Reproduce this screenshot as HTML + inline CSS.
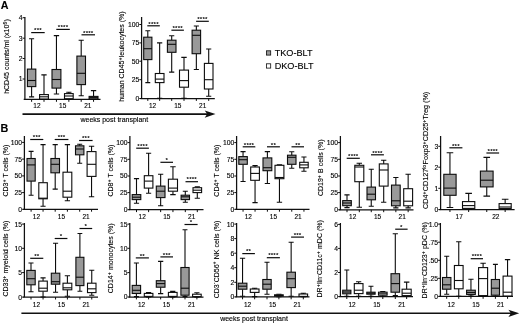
<!DOCTYPE html>
<html lang="en"><head><meta charset="utf-8"><title>Figure</title>
<style>
html,body{margin:0;padding:0;background:#fff;}
body{width:520px;height:323px;overflow:hidden;}
svg{display:block;font-family:"Liberation Sans",Arial,sans-serif;fill:#000;}
text{stroke:#000;stroke-width:0.12px;}
text.st{stroke:none;}
</style></head><body>
<svg width="520" height="323" viewBox="0 0 520 323">
<rect x="0" y="0" width="520" height="323" fill="#ffffff" stroke="none"/>
<path d="M24.9 17.1V99.4M23.7 99.4H100.5" stroke="#111" stroke-width="1.25" fill="none"/>
<path d="M22.599999999999998 17.7H24.9" stroke="#0c0c0c" stroke-width="1"/>
<text x="22.599999999999998" y="20.15" font-size="6.8" text-anchor="end" font-weight="normal">4</text>
<path d="M22.599999999999998 38.2H24.9" stroke="#0c0c0c" stroke-width="1"/>
<text x="22.599999999999998" y="40.65" font-size="6.8" text-anchor="end" font-weight="normal">3</text>
<path d="M22.599999999999998 58.5H24.9" stroke="#0c0c0c" stroke-width="1"/>
<text x="22.599999999999998" y="60.95" font-size="6.8" text-anchor="end" font-weight="normal">2</text>
<path d="M22.599999999999998 79.0H24.9" stroke="#0c0c0c" stroke-width="1"/>
<text x="22.599999999999998" y="81.45" font-size="6.8" text-anchor="end" font-weight="normal">1</text>
<path d="M31.60 38.80V69.10M31.60 86.60V96.90M29.08 38.80H34.12M29.08 96.90H34.12" stroke="#0c0c0c" stroke-width="1.1" fill="none"/>
<rect x="27.40" y="69.10" width="8.40" height="17.50" fill="#999999" stroke="#0c0c0c" stroke-width="1.1"/>
<path d="M27.40 80.50H35.80" stroke="#0c0c0c" stroke-width="1.1"/>
<path d="M31.60 99.4V101.80000000000001" stroke="#0c0c0c" stroke-width="1"/>
<path d="M44.00 74.90V94.60M44.00 99.00V99.40M41.36 74.90H46.64M41.36 99.40H46.64" stroke="#0c0c0c" stroke-width="1.1" fill="none"/>
<rect x="39.60" y="94.60" width="8.80" height="4.40" fill="#ffffff" stroke="#0c0c0c" stroke-width="1.1"/>
<path d="M39.60 96.80H48.40" stroke="#0c0c0c" stroke-width="1.1"/>
<path d="M44.00 99.4V101.80000000000001" stroke="#0c0c0c" stroke-width="1"/>
<path d="M56.45 35.60V69.50M56.45 88.10V94.00M53.78 35.60H59.12M53.78 94.00H59.12" stroke="#0c0c0c" stroke-width="1.1" fill="none"/>
<rect x="52.00" y="69.50" width="8.90" height="18.60" fill="#999999" stroke="#0c0c0c" stroke-width="1.1"/>
<path d="M52.00 79.50H60.90" stroke="#0c0c0c" stroke-width="1.1"/>
<path d="M56.45 99.4V101.80000000000001" stroke="#0c0c0c" stroke-width="1"/>
<path d="M68.85 92.20V93.60M68.85 98.70V99.20M66.24 92.20H71.46M66.24 99.20H71.46" stroke="#0c0c0c" stroke-width="1.1" fill="none"/>
<rect x="64.50" y="93.60" width="8.70" height="5.10" fill="#ffffff" stroke="#0c0c0c" stroke-width="1.1"/>
<path d="M64.50 96.00H73.20" stroke="#0c0c0c" stroke-width="1.1"/>
<path d="M68.85 99.4V101.80000000000001" stroke="#0c0c0c" stroke-width="1"/>
<path d="M81.20 40.20V56.10M81.20 84.60V95.80M78.62 40.20H83.78M78.62 95.80H83.78" stroke="#0c0c0c" stroke-width="1.1" fill="none"/>
<rect x="76.90" y="56.10" width="8.60" height="28.50" fill="#999999" stroke="#0c0c0c" stroke-width="1.1"/>
<path d="M76.90 73.30H85.50" stroke="#0c0c0c" stroke-width="1.1"/>
<path d="M81.20 99.4V101.80000000000001" stroke="#0c0c0c" stroke-width="1"/>
<path d="M93.55 90.60V96.40M93.55 98.80V99.20M90.88 90.60H96.22M90.88 99.20H96.22" stroke="#0c0c0c" stroke-width="1.1" fill="none"/>
<rect x="89.10" y="96.40" width="8.90" height="2.40" fill="#ffffff" stroke="#0c0c0c" stroke-width="1.1"/>
<path d="M89.10 97.60H98.00" stroke="#0c0c0c" stroke-width="1.1"/>
<path d="M93.55 99.4V101.80000000000001" stroke="#0c0c0c" stroke-width="1"/>
<text x="36.9" y="107.8" font-size="6.5" text-anchor="middle" font-weight="normal">12</text>
<text x="62.7" y="107.8" font-size="6.5" text-anchor="middle" font-weight="normal">15</text>
<text x="87.8" y="107.8" font-size="6.5" text-anchor="middle" font-weight="normal">21</text>
<path d="M31.2 32.6H44.7" stroke="#0c0c0c" stroke-width="1.2"/>
<text x="37.95" y="32.3" font-size="6.2" text-anchor="middle" font-weight="bold" class="st" letter-spacing="0.2">***</text>
<path d="M56.3 29.4H69.8" stroke="#0c0c0c" stroke-width="1.2"/>
<text x="63.05" y="29.1" font-size="6.2" text-anchor="middle" font-weight="bold" class="st" letter-spacing="0.2">****</text>
<path d="M81.5 34.8H95" stroke="#0c0c0c" stroke-width="1.2"/>
<text x="88.25" y="34.5" font-size="6.2" text-anchor="middle" font-weight="bold" class="st" letter-spacing="0.2">****</text>
<text x="9.4" y="56.5" font-size="7" text-anchor="middle" font-weight="normal" transform="rotate(-90 9.4 56.5)">hCD45 counts/ml (x10<tspan font-size="72%" dy="-2.1">6</tspan><tspan dy="2.1" dx="0.3">&#8203;</tspan>)</text>
<path d="M141.6 17.1V98.5M140.4 98.5H214.8" stroke="#111" stroke-width="1.25" fill="none"/>
<path d="M139.29999999999998 24.5H141.6" stroke="#0c0c0c" stroke-width="1"/>
<text x="139.29999999999998" y="26.95" font-size="6.8" text-anchor="end" font-weight="normal">100</text>
<path d="M139.29999999999998 42.9H141.6" stroke="#0c0c0c" stroke-width="1"/>
<text x="139.29999999999998" y="45.35" font-size="6.8" text-anchor="end" font-weight="normal">75</text>
<path d="M139.29999999999998 61.2H141.6" stroke="#0c0c0c" stroke-width="1"/>
<text x="139.29999999999998" y="63.65" font-size="6.8" text-anchor="end" font-weight="normal">50</text>
<path d="M139.29999999999998 79.7H141.6" stroke="#0c0c0c" stroke-width="1"/>
<text x="139.29999999999998" y="82.15" font-size="6.8" text-anchor="end" font-weight="normal">25</text>
<path d="M139.29999999999998 98.5H141.6" stroke="#0c0c0c" stroke-width="1"/>
<text x="139.29999999999998" y="100.95" font-size="6.8" text-anchor="end" font-weight="normal">0</text>
<path d="M147.80 30.80V37.20M147.80 59.60V82.60M145.34 30.80H150.26M145.34 82.60H150.26" stroke="#0c0c0c" stroke-width="1.1" fill="none"/>
<rect x="143.70" y="37.20" width="8.20" height="22.40" fill="#999999" stroke="#0c0c0c" stroke-width="1.1"/>
<path d="M143.70 48.70H151.90" stroke="#0c0c0c" stroke-width="1.1"/>
<path d="M147.80 98.5V100.9" stroke="#0c0c0c" stroke-width="1"/>
<path d="M159.65 42.90V73.50M159.65 82.60V98.30M157.04 42.90H162.26M157.04 98.30H162.26" stroke="#0c0c0c" stroke-width="1.1" fill="none"/>
<rect x="155.30" y="73.50" width="8.70" height="9.10" fill="#ffffff" stroke="#0c0c0c" stroke-width="1.1"/>
<path d="M155.30 79.10H164.00" stroke="#0c0c0c" stroke-width="1.1"/>
<path d="M159.65 98.5V100.9" stroke="#0c0c0c" stroke-width="1"/>
<path d="M171.70 35.80V40.20M171.70 52.30V72.10M169.12 35.80H174.28M169.12 72.10H174.28" stroke="#0c0c0c" stroke-width="1.1" fill="none"/>
<rect x="167.40" y="40.20" width="8.60" height="12.10" fill="#999999" stroke="#0c0c0c" stroke-width="1.1"/>
<path d="M167.40 44.30H176.00" stroke="#0c0c0c" stroke-width="1.1"/>
<path d="M171.70 98.5V100.9" stroke="#0c0c0c" stroke-width="1"/>
<path d="M184.00 57.40V70.10M184.00 87.20V98.30M181.30 57.40H186.70M181.30 98.30H186.70" stroke="#0c0c0c" stroke-width="1.1" fill="none"/>
<rect x="179.50" y="70.10" width="9.00" height="17.10" fill="#ffffff" stroke="#0c0c0c" stroke-width="1.1"/>
<path d="M179.50 80.60H188.50" stroke="#0c0c0c" stroke-width="1.1"/>
<path d="M184.00 98.5V100.9" stroke="#0c0c0c" stroke-width="1"/>
<path d="M196.35 26.00V30.20M196.35 53.70V69.50M193.80 26.00H198.90M193.80 69.50H198.90" stroke="#0c0c0c" stroke-width="1.1" fill="none"/>
<rect x="192.10" y="30.20" width="8.50" height="23.50" fill="#999999" stroke="#0c0c0c" stroke-width="1.1"/>
<path d="M192.10 35.30H200.60" stroke="#0c0c0c" stroke-width="1.1"/>
<path d="M196.35 98.5V100.9" stroke="#0c0c0c" stroke-width="1"/>
<path d="M208.70 49.00V63.40M208.70 89.00V96.20M206.12 49.00H211.28M206.12 96.20H211.28" stroke="#0c0c0c" stroke-width="1.1" fill="none"/>
<rect x="204.40" y="63.40" width="8.60" height="25.60" fill="#ffffff" stroke="#0c0c0c" stroke-width="1.1"/>
<path d="M204.40 79.70H213.00" stroke="#0c0c0c" stroke-width="1.1"/>
<path d="M208.70 98.5V100.9" stroke="#0c0c0c" stroke-width="1"/>
<text x="152.5" y="108.0" font-size="6.5" text-anchor="middle" font-weight="normal">12</text>
<text x="177.8" y="108.0" font-size="6.5" text-anchor="middle" font-weight="normal">15</text>
<text x="202.7" y="108.0" font-size="6.5" text-anchor="middle" font-weight="normal">21</text>
<path d="M147.3 25.8H159.8" stroke="#0c0c0c" stroke-width="1.2"/>
<text x="153.55" y="25.5" font-size="6.2" text-anchor="middle" font-weight="bold" class="st" letter-spacing="0.2">****</text>
<path d="M171.4 30.2H183.9" stroke="#0c0c0c" stroke-width="1.2"/>
<text x="177.65" y="29.9" font-size="6.2" text-anchor="middle" font-weight="bold" class="st" letter-spacing="0.2">****</text>
<path d="M196.1 21.3H208.8" stroke="#0c0c0c" stroke-width="1.2"/>
<text x="202.45" y="21.0" font-size="6.2" text-anchor="middle" font-weight="bold" class="st" letter-spacing="0.2">****</text>
<text x="123.6" y="56.6" font-size="7" text-anchor="middle" font-weight="normal" transform="rotate(-90 123.6 56.6)">human CD45<tspan font-size="72%" dy="-2.1">+</tspan><tspan dy="2.1" dx="0.3">&#8203;</tspan>leukocytes (%)</text>
<path d="M24.4 136.1V209.3M23.2 209.3H98" stroke="#111" stroke-width="1.25" fill="none"/>
<path d="M22.099999999999998 142.4H24.4" stroke="#0c0c0c" stroke-width="1"/>
<text x="22.099999999999998" y="144.85" font-size="6.8" text-anchor="end" font-weight="normal">100</text>
<path d="M22.099999999999998 159.1H24.4" stroke="#0c0c0c" stroke-width="1"/>
<text x="22.099999999999998" y="161.55" font-size="6.8" text-anchor="end" font-weight="normal">75</text>
<path d="M22.099999999999998 175.9H24.4" stroke="#0c0c0c" stroke-width="1"/>
<text x="22.099999999999998" y="178.35" font-size="6.8" text-anchor="end" font-weight="normal">50</text>
<path d="M22.099999999999998 192.6H24.4" stroke="#0c0c0c" stroke-width="1"/>
<text x="22.099999999999998" y="195.05" font-size="6.8" text-anchor="end" font-weight="normal">25</text>
<path d="M22.099999999999998 209.3H24.4" stroke="#0c0c0c" stroke-width="1"/>
<text x="22.099999999999998" y="211.75" font-size="6.8" text-anchor="end" font-weight="normal">0</text>
<path d="M31.10 151.40V158.50M31.10 181.10V195.20M28.64 151.40H33.56M28.64 195.20H33.56" stroke="#0c0c0c" stroke-width="1.1" fill="none"/>
<rect x="27.00" y="158.50" width="8.20" height="22.60" fill="#999999" stroke="#0c0c0c" stroke-width="1.1"/>
<path d="M27.00 164.90H35.20" stroke="#0c0c0c" stroke-width="1.1"/>
<path d="M31.10 209.3V211.70000000000002" stroke="#0c0c0c" stroke-width="1"/>
<path d="M43.05 144.60V182.70M43.05 198.80V206.20M40.50 144.60H45.60M40.50 206.20H45.60" stroke="#0c0c0c" stroke-width="1.1" fill="none"/>
<rect x="38.80" y="182.70" width="8.50" height="16.10" fill="#ffffff" stroke="#0c0c0c" stroke-width="1.1"/>
<path d="M38.80 198.20H47.30" stroke="#0c0c0c" stroke-width="1.1"/>
<path d="M43.05 209.3V211.70000000000002" stroke="#0c0c0c" stroke-width="1"/>
<path d="M55.20 144.60V158.50M55.20 172.80V189.10M52.62 144.60H57.78M52.62 189.10H57.78" stroke="#0c0c0c" stroke-width="1.1" fill="none"/>
<rect x="50.90" y="158.50" width="8.60" height="14.30" fill="#999999" stroke="#0c0c0c" stroke-width="1.1"/>
<path d="M50.90 164.30H59.50" stroke="#0c0c0c" stroke-width="1.1"/>
<path d="M55.20 209.3V211.70000000000002" stroke="#0c0c0c" stroke-width="1"/>
<path d="M67.40 144.60V172.20M67.40 197.20V200.80M64.76 144.60H70.04M64.76 200.80H70.04" stroke="#0c0c0c" stroke-width="1.1" fill="none"/>
<rect x="63.00" y="172.20" width="8.80" height="25.00" fill="#ffffff" stroke="#0c0c0c" stroke-width="1.1"/>
<path d="M63.00 191.20H71.80" stroke="#0c0c0c" stroke-width="1.1"/>
<path d="M67.40 209.3V211.70000000000002" stroke="#0c0c0c" stroke-width="1"/>
<path d="M79.70 144.20V145.80M79.70 154.80V163.30M77.18 144.20H82.22M77.18 163.30H82.22" stroke="#0c0c0c" stroke-width="1.1" fill="none"/>
<rect x="75.50" y="145.80" width="8.40" height="9.00" fill="#999999" stroke="#0c0c0c" stroke-width="1.1"/>
<path d="M75.50 149.00H83.90" stroke="#0c0c0c" stroke-width="1.1"/>
<path d="M79.70 209.3V211.70000000000002" stroke="#0c0c0c" stroke-width="1"/>
<path d="M91.55 146.20V151.60M91.55 176.40V196.80M88.88 146.20H94.22M88.88 196.80H94.22" stroke="#0c0c0c" stroke-width="1.1" fill="none"/>
<rect x="87.10" y="151.60" width="8.90" height="24.80" fill="#ffffff" stroke="#0c0c0c" stroke-width="1.1"/>
<path d="M87.10 164.30H96.00" stroke="#0c0c0c" stroke-width="1.1"/>
<path d="M91.55 209.3V211.70000000000002" stroke="#0c0c0c" stroke-width="1"/>
<text x="36.4" y="218.5" font-size="6.5" text-anchor="middle" font-weight="normal">12</text>
<text x="61.4" y="218.5" font-size="6.5" text-anchor="middle" font-weight="normal">15</text>
<text x="86.1" y="218.5" font-size="6.5" text-anchor="middle" font-weight="normal">21</text>
<path d="M30.2 139.5H43.3" stroke="#0c0c0c" stroke-width="1.2"/>
<text x="36.75" y="139.2" font-size="6.2" text-anchor="middle" font-weight="bold" class="st" letter-spacing="0.2">***</text>
<path d="M54.7 139.5H68.4" stroke="#0c0c0c" stroke-width="1.2"/>
<text x="61.55" y="139.2" font-size="6.2" text-anchor="middle" font-weight="bold" class="st" letter-spacing="0.2">***</text>
<path d="M79.1 140.5H92.6" stroke="#0c0c0c" stroke-width="1.2"/>
<text x="85.85" y="140.2" font-size="6.2" text-anchor="middle" font-weight="bold" class="st" letter-spacing="0.2">***</text>
<text x="8.0" y="170.6" font-size="7" text-anchor="middle" font-weight="normal" transform="rotate(-90 8.0 170.6)">CD3<tspan font-size="72%" dy="-2.1">+</tspan><tspan dy="2.1" dx="0.3">&#8203;</tspan> T cells (%)</text>
<path d="M24.4 223.0V297.1M23.2 297.1H98" stroke="#111" stroke-width="1.25" fill="none"/>
<path d="M22.099999999999998 224.1H24.4" stroke="#0c0c0c" stroke-width="1"/>
<text x="22.099999999999998" y="226.55" font-size="6.8" text-anchor="end" font-weight="normal">15</text>
<path d="M22.099999999999998 248.3H24.4" stroke="#0c0c0c" stroke-width="1"/>
<text x="22.099999999999998" y="250.75" font-size="6.8" text-anchor="end" font-weight="normal">10</text>
<path d="M22.099999999999998 272.6H24.4" stroke="#0c0c0c" stroke-width="1"/>
<text x="22.099999999999998" y="275.05" font-size="6.8" text-anchor="end" font-weight="normal">5</text>
<path d="M22.099999999999998 297.1H24.4" stroke="#0c0c0c" stroke-width="1"/>
<text x="22.099999999999998" y="299.55" font-size="6.8" text-anchor="end" font-weight="normal">0</text>
<path d="M31.00 263.00V270.40M31.00 284.80V291.80M28.48 263.00H33.52M28.48 291.80H33.52" stroke="#0c0c0c" stroke-width="1.1" fill="none"/>
<rect x="26.80" y="270.40" width="8.40" height="14.40" fill="#999999" stroke="#0c0c0c" stroke-width="1.1"/>
<path d="M26.80 278.70H35.20" stroke="#0c0c0c" stroke-width="1.1"/>
<path d="M31.00 297.1V299.5" stroke="#0c0c0c" stroke-width="1"/>
<path d="M43.05 277.90V281.10M43.05 291.20V297.00M40.50 277.90H45.60M40.50 297.00H45.60" stroke="#0c0c0c" stroke-width="1.1" fill="none"/>
<rect x="38.80" y="281.10" width="8.50" height="10.10" fill="#ffffff" stroke="#0c0c0c" stroke-width="1.1"/>
<path d="M38.80 288.20H47.30" stroke="#0c0c0c" stroke-width="1.1"/>
<path d="M43.05 297.1V299.5" stroke="#0c0c0c" stroke-width="1"/>
<path d="M55.55 243.20V273.20M55.55 284.20V292.20M53.00 243.20H58.10M53.00 292.20H58.10" stroke="#0c0c0c" stroke-width="1.1" fill="none"/>
<rect x="51.30" y="273.20" width="8.50" height="11.00" fill="#999999" stroke="#0c0c0c" stroke-width="1.1"/>
<path d="M51.30 281.70H59.80" stroke="#0c0c0c" stroke-width="1.1"/>
<path d="M55.55 297.1V299.5" stroke="#0c0c0c" stroke-width="1"/>
<path d="M67.40 275.80V283.20M67.40 289.80V296.20M64.76 275.80H70.04M64.76 296.20H70.04" stroke="#0c0c0c" stroke-width="1.1" fill="none"/>
<rect x="63.00" y="283.20" width="8.80" height="6.60" fill="#ffffff" stroke="#0c0c0c" stroke-width="1.1"/>
<path d="M63.00 287.80H71.80" stroke="#0c0c0c" stroke-width="1.1"/>
<path d="M67.40 297.1V299.5" stroke="#0c0c0c" stroke-width="1"/>
<path d="M79.90 233.50V257.30M79.90 285.60V291.20M77.50 233.50H82.30M77.50 291.20H82.30" stroke="#0c0c0c" stroke-width="1.1" fill="none"/>
<rect x="75.90" y="257.30" width="8.00" height="28.30" fill="#999999" stroke="#0c0c0c" stroke-width="1.1"/>
<path d="M75.90 277.20H83.90" stroke="#0c0c0c" stroke-width="1.1"/>
<path d="M79.90 297.1V299.5" stroke="#0c0c0c" stroke-width="1"/>
<path d="M91.75 270.20V283.20M91.75 292.60V295.20M89.20 270.20H94.30M89.20 295.20H94.30" stroke="#0c0c0c" stroke-width="1.1" fill="none"/>
<rect x="87.50" y="283.20" width="8.50" height="9.40" fill="#ffffff" stroke="#0c0c0c" stroke-width="1.1"/>
<path d="M87.50 288.80H96.00" stroke="#0c0c0c" stroke-width="1.1"/>
<path d="M91.75 297.1V299.5" stroke="#0c0c0c" stroke-width="1"/>
<text x="36.4" y="306.9" font-size="6.5" text-anchor="middle" font-weight="normal">12</text>
<text x="61.4" y="306.9" font-size="6.5" text-anchor="middle" font-weight="normal">15</text>
<text x="86.1" y="306.9" font-size="6.5" text-anchor="middle" font-weight="normal">21</text>
<path d="M30.2 258.3H43.3" stroke="#0c0c0c" stroke-width="1.2"/>
<text x="36.75" y="258.0" font-size="6.2" text-anchor="middle" font-weight="bold" class="st" letter-spacing="0.2">**</text>
<path d="M54.7 238.5H67.4" stroke="#0c0c0c" stroke-width="1.2"/>
<text x="61.05" y="238.2" font-size="6.2" text-anchor="middle" font-weight="bold" class="st" letter-spacing="0.2">*</text>
<path d="M79.5 228.5H92.2" stroke="#0c0c0c" stroke-width="1.2"/>
<text x="85.85" y="228.2" font-size="6.2" text-anchor="middle" font-weight="bold" class="st" letter-spacing="0.2">*</text>
<text x="7.8" y="258.6" font-size="7" text-anchor="middle" font-weight="normal" transform="rotate(-90 7.8 258.6)">CD33<tspan font-size="72%" dy="-2.1">+</tspan><tspan dy="2.1" dx="0.3">&#8203;</tspan> myeloid cells (%)</text>
<path d="M129.9 136.1V209.7M128.70000000000002 209.7H203.5" stroke="#111" stroke-width="1.25" fill="none"/>
<path d="M127.60000000000001 142.6H129.9" stroke="#0c0c0c" stroke-width="1"/>
<text x="127.60000000000001" y="145.05" font-size="6.8" text-anchor="end" font-weight="normal">100</text>
<path d="M127.60000000000001 159.3H129.9" stroke="#0c0c0c" stroke-width="1"/>
<text x="127.60000000000001" y="161.75" font-size="6.8" text-anchor="end" font-weight="normal">75</text>
<path d="M127.60000000000001 176.0H129.9" stroke="#0c0c0c" stroke-width="1"/>
<text x="127.60000000000001" y="178.45" font-size="6.8" text-anchor="end" font-weight="normal">50</text>
<path d="M127.60000000000001 192.6H129.9" stroke="#0c0c0c" stroke-width="1"/>
<text x="127.60000000000001" y="195.05" font-size="6.8" text-anchor="end" font-weight="normal">25</text>
<path d="M127.60000000000001 209.7H129.9" stroke="#0c0c0c" stroke-width="1"/>
<text x="127.60000000000001" y="212.15" font-size="6.8" text-anchor="end" font-weight="normal">0</text>
<path d="M136.50 178.60V194.60M136.50 199.60V203.20M133.92 178.60H139.08M133.92 203.20H139.08" stroke="#0c0c0c" stroke-width="1.1" fill="none"/>
<rect x="132.20" y="194.60" width="8.60" height="5.00" fill="#999999" stroke="#0c0c0c" stroke-width="1.1"/>
<path d="M132.20 197.20H140.80" stroke="#0c0c0c" stroke-width="1.1"/>
<path d="M136.50 209.7V212.1" stroke="#0c0c0c" stroke-width="1"/>
<path d="M148.60 153.20V175.70M148.60 188.10V193.20M146.02 153.20H151.18M146.02 193.20H151.18" stroke="#0c0c0c" stroke-width="1.1" fill="none"/>
<rect x="144.30" y="175.70" width="8.60" height="12.40" fill="#ffffff" stroke="#0c0c0c" stroke-width="1.1"/>
<path d="M144.30 181.10H152.90" stroke="#0c0c0c" stroke-width="1.1"/>
<path d="M148.60 209.7V212.1" stroke="#0c0c0c" stroke-width="1"/>
<path d="M160.65 174.20V186.10M160.65 197.60V205.80M158.04 174.20H163.26M158.04 205.80H163.26" stroke="#0c0c0c" stroke-width="1.1" fill="none"/>
<rect x="156.30" y="186.10" width="8.70" height="11.50" fill="#999999" stroke="#0c0c0c" stroke-width="1.1"/>
<path d="M156.30 191.20H165.00" stroke="#0c0c0c" stroke-width="1.1"/>
<path d="M160.65 209.7V212.1" stroke="#0c0c0c" stroke-width="1"/>
<path d="M172.95 166.80V179.20M172.95 191.20V194.60M170.22 166.80H175.68M170.22 194.60H175.68" stroke="#0c0c0c" stroke-width="1.1" fill="none"/>
<rect x="168.40" y="179.20" width="9.10" height="12.00" fill="#ffffff" stroke="#0c0c0c" stroke-width="1.1"/>
<path d="M168.40 188.10H177.50" stroke="#0c0c0c" stroke-width="1.1"/>
<path d="M172.95 209.7V212.1" stroke="#0c0c0c" stroke-width="1"/>
<path d="M185.30 191.20V195.20M185.30 199.60V202.20M182.78 191.20H187.82M182.78 202.20H187.82" stroke="#0c0c0c" stroke-width="1.1" fill="none"/>
<rect x="181.10" y="195.20" width="8.40" height="4.40" fill="#999999" stroke="#0c0c0c" stroke-width="1.1"/>
<path d="M181.10 196.80H189.50" stroke="#0c0c0c" stroke-width="1.1"/>
<path d="M185.30 209.7V212.1" stroke="#0c0c0c" stroke-width="1"/>
<path d="M197.30 186.90V187.70M197.30 192.60V198.20M194.72 186.90H199.88M194.72 198.20H199.88" stroke="#0c0c0c" stroke-width="1.1" fill="none"/>
<rect x="193.00" y="187.70" width="8.60" height="4.90" fill="#ffffff" stroke="#0c0c0c" stroke-width="1.1"/>
<path d="M193.00 190.20H201.60" stroke="#0c0c0c" stroke-width="1.1"/>
<path d="M197.30 209.7V212.1" stroke="#0c0c0c" stroke-width="1"/>
<text x="142.2" y="218.6" font-size="6.5" text-anchor="middle" font-weight="normal">12</text>
<text x="166.8" y="218.6" font-size="6.5" text-anchor="middle" font-weight="normal">15</text>
<text x="191.7" y="218.6" font-size="6.5" text-anchor="middle" font-weight="normal">21</text>
<path d="M136.2 148.2H148.9" stroke="#0c0c0c" stroke-width="1.2"/>
<text x="142.55" y="147.9" font-size="6.2" text-anchor="middle" font-weight="bold" class="st" letter-spacing="0.2">****</text>
<path d="M160.4 162.3H173.0" stroke="#0c0c0c" stroke-width="1.2"/>
<text x="166.7" y="162.0" font-size="6.2" text-anchor="middle" font-weight="bold" class="st" letter-spacing="0.2">*</text>
<path d="M185.5 181.7H198.0" stroke="#0c0c0c" stroke-width="1.2"/>
<text x="191.75" y="181.4" font-size="6.2" text-anchor="middle" font-weight="bold" class="st" letter-spacing="0.2">****</text>
<text x="113.0" y="170.6" font-size="7" text-anchor="middle" font-weight="normal" transform="rotate(-90 113.0 170.6)">CD8<tspan font-size="72%" dy="-2.1">+</tspan><tspan dy="2.1" dx="0.3">&#8203;</tspan> T cells (%)</text>
<path d="M129.8 223.0V297.0M128.60000000000002 297.0H203.5" stroke="#111" stroke-width="1.25" fill="none"/>
<path d="M127.50000000000001 224.1H129.8" stroke="#0c0c0c" stroke-width="1"/>
<text x="127.50000000000001" y="226.55" font-size="6.8" text-anchor="end" font-weight="normal">15</text>
<path d="M127.50000000000001 248.3H129.8" stroke="#0c0c0c" stroke-width="1"/>
<text x="127.50000000000001" y="250.75" font-size="6.8" text-anchor="end" font-weight="normal">10</text>
<path d="M127.50000000000001 272.6H129.8" stroke="#0c0c0c" stroke-width="1"/>
<text x="127.50000000000001" y="275.05" font-size="6.8" text-anchor="end" font-weight="normal">5</text>
<path d="M127.50000000000001 297.0H129.8" stroke="#0c0c0c" stroke-width="1"/>
<text x="127.50000000000001" y="299.45" font-size="6.8" text-anchor="end" font-weight="normal">0</text>
<path d="M136.40 263.00V285.40M136.40 293.50V296.60M133.88 263.00H138.92M133.88 296.60H138.92" stroke="#0c0c0c" stroke-width="1.1" fill="none"/>
<rect x="132.20" y="285.40" width="8.40" height="8.10" fill="#999999" stroke="#0c0c0c" stroke-width="1.1"/>
<path d="M132.20 290.30H140.60" stroke="#0c0c0c" stroke-width="1.1"/>
<path d="M136.40 297.0V299.4" stroke="#0c0c0c" stroke-width="1"/>
<path d="M148.60 292.60V293.40M148.60 296.40V296.90M146.02 292.60H151.18M146.02 296.90H151.18" stroke="#0c0c0c" stroke-width="1.1" fill="none"/>
<rect x="144.30" y="293.40" width="8.60" height="3.00" fill="#ffffff" stroke="#0c0c0c" stroke-width="1.1"/>
<path d="M148.60 297.0V299.4" stroke="#0c0c0c" stroke-width="1"/>
<path d="M160.65 261.40V280.70M160.65 287.20V293.60M158.04 261.40H163.26M158.04 293.60H163.26" stroke="#0c0c0c" stroke-width="1.1" fill="none"/>
<rect x="156.30" y="280.70" width="8.70" height="6.50" fill="#999999" stroke="#0c0c0c" stroke-width="1.1"/>
<path d="M156.30 283.60H165.00" stroke="#0c0c0c" stroke-width="1.1"/>
<path d="M160.65 297.0V299.4" stroke="#0c0c0c" stroke-width="1"/>
<path d="M172.75 291.40V292.40M172.75 296.40V296.90M170.14 291.40H175.36M170.14 296.90H175.36" stroke="#0c0c0c" stroke-width="1.1" fill="none"/>
<rect x="168.40" y="292.40" width="8.70" height="4.00" fill="#ffffff" stroke="#0c0c0c" stroke-width="1.1"/>
<path d="M172.75 297.0V299.4" stroke="#0c0c0c" stroke-width="1"/>
<path d="M185.00 229.70V267.50M185.00 295.20V296.60M182.54 229.70H187.46M182.54 296.60H187.46" stroke="#0c0c0c" stroke-width="1.1" fill="none"/>
<rect x="180.90" y="267.50" width="8.20" height="27.70" fill="#999999" stroke="#0c0c0c" stroke-width="1.1"/>
<path d="M180.90 288.20H189.10" stroke="#0c0c0c" stroke-width="1.1"/>
<path d="M185.00 297.0V299.4" stroke="#0c0c0c" stroke-width="1"/>
<path d="M196.90 292.70V294.20M196.90 296.60V296.90M194.32 292.70H199.48M194.32 296.90H199.48" stroke="#0c0c0c" stroke-width="1.1" fill="none"/>
<rect x="192.60" y="294.20" width="8.60" height="2.40" fill="#ffffff" stroke="#0c0c0c" stroke-width="1.1"/>
<path d="M196.90 297.0V299.4" stroke="#0c0c0c" stroke-width="1"/>
<text x="141.6" y="306.9" font-size="6.5" text-anchor="middle" font-weight="normal">12</text>
<text x="166.4" y="306.9" font-size="6.5" text-anchor="middle" font-weight="normal">15</text>
<text x="191.5" y="306.9" font-size="6.5" text-anchor="middle" font-weight="normal">21</text>
<path d="M135.8 257.9H148.9" stroke="#0c0c0c" stroke-width="1.2"/>
<text x="142.35" y="257.6" font-size="6.2" text-anchor="middle" font-weight="bold" class="st" letter-spacing="0.2">**</text>
<path d="M160.4 256.9H173.0" stroke="#0c0c0c" stroke-width="1.2"/>
<text x="166.7" y="256.6" font-size="6.2" text-anchor="middle" font-weight="bold" class="st" letter-spacing="0.2">***</text>
<path d="M184.5 224.5H197.6" stroke="#0c0c0c" stroke-width="1.2"/>
<text x="191.05" y="224.2" font-size="6.2" text-anchor="middle" font-weight="bold" class="st" letter-spacing="0.2">*</text>
<text x="113.0" y="258.3" font-size="7" text-anchor="middle" font-weight="normal" transform="rotate(-90 113.0 258.3)">CD14<tspan font-size="72%" dy="-2.1">+</tspan><tspan dy="2.1" dx="0.3">&#8203;</tspan> monocytes (%)</text>
<path d="M236.6 136.1V209.3M235.4 209.3H309.5" stroke="#111" stroke-width="1.25" fill="none"/>
<path d="M234.29999999999998 142.6H236.6" stroke="#0c0c0c" stroke-width="1"/>
<text x="234.29999999999998" y="145.05" font-size="6.8" text-anchor="end" font-weight="normal">100</text>
<path d="M234.29999999999998 159.3H236.6" stroke="#0c0c0c" stroke-width="1"/>
<text x="234.29999999999998" y="161.75" font-size="6.8" text-anchor="end" font-weight="normal">75</text>
<path d="M234.29999999999998 176.0H236.6" stroke="#0c0c0c" stroke-width="1"/>
<text x="234.29999999999998" y="178.45" font-size="6.8" text-anchor="end" font-weight="normal">50</text>
<path d="M234.29999999999998 192.6H236.6" stroke="#0c0c0c" stroke-width="1"/>
<text x="234.29999999999998" y="195.05" font-size="6.8" text-anchor="end" font-weight="normal">25</text>
<path d="M234.29999999999998 209.3H236.6" stroke="#0c0c0c" stroke-width="1"/>
<text x="234.29999999999998" y="211.75" font-size="6.8" text-anchor="end" font-weight="normal">0</text>
<path d="M243.05 151.60V156.60M243.05 164.30V181.50M240.50 151.60H245.60M240.50 181.50H245.60" stroke="#0c0c0c" stroke-width="1.1" fill="none"/>
<rect x="238.80" y="156.60" width="8.50" height="7.70" fill="#999999" stroke="#0c0c0c" stroke-width="1.1"/>
<path d="M238.80 159.70H247.30" stroke="#0c0c0c" stroke-width="1.1"/>
<path d="M243.05 209.3V211.70000000000002" stroke="#0c0c0c" stroke-width="1"/>
<path d="M255.05 165.60V167.00M255.05 180.30V202.60M252.44 165.60H257.66M252.44 202.60H257.66" stroke="#0c0c0c" stroke-width="1.1" fill="none"/>
<rect x="250.70" y="167.00" width="8.70" height="13.30" fill="#ffffff" stroke="#0c0c0c" stroke-width="1.1"/>
<path d="M250.70 173.40H259.40" stroke="#0c0c0c" stroke-width="1.1"/>
<path d="M255.05 209.3V211.70000000000002" stroke="#0c0c0c" stroke-width="1"/>
<path d="M267.40 151.60V157.90M267.40 170.70V183.50M264.76 151.60H270.04M264.76 183.50H270.04" stroke="#0c0c0c" stroke-width="1.1" fill="none"/>
<rect x="263.00" y="157.90" width="8.80" height="12.80" fill="#999999" stroke="#0c0c0c" stroke-width="1.1"/>
<path d="M263.00 167.70H271.80" stroke="#0c0c0c" stroke-width="1.1"/>
<path d="M267.40 209.3V211.70000000000002" stroke="#0c0c0c" stroke-width="1"/>
<path d="M279.45 164.80V165.30M279.45 178.70V202.20M276.78 164.80H282.12M276.78 202.20H282.12" stroke="#0c0c0c" stroke-width="1.1" fill="none"/>
<rect x="275.00" y="165.30" width="8.90" height="13.40" fill="#ffffff" stroke="#0c0c0c" stroke-width="1.1"/>
<path d="M275.00 177.50H283.90" stroke="#0c0c0c" stroke-width="1.1"/>
<path d="M279.45 209.3V211.70000000000002" stroke="#0c0c0c" stroke-width="1"/>
<path d="M291.75 151.80V155.20M291.75 164.30V168.30M289.20 151.80H294.30M289.20 168.30H294.30" stroke="#0c0c0c" stroke-width="1.1" fill="none"/>
<rect x="287.50" y="155.20" width="8.50" height="9.10" fill="#999999" stroke="#0c0c0c" stroke-width="1.1"/>
<path d="M287.50 157.30H296.00" stroke="#0c0c0c" stroke-width="1.1"/>
<path d="M291.75 209.3V211.70000000000002" stroke="#0c0c0c" stroke-width="1"/>
<path d="M303.95 157.00V162.30M303.95 167.80V171.20M301.40 157.00H306.50M301.40 171.20H306.50" stroke="#0c0c0c" stroke-width="1.1" fill="none"/>
<rect x="299.70" y="162.30" width="8.50" height="5.50" fill="#ffffff" stroke="#0c0c0c" stroke-width="1.1"/>
<path d="M299.70 164.90H308.20" stroke="#0c0c0c" stroke-width="1.1"/>
<path d="M303.95 209.3V211.70000000000002" stroke="#0c0c0c" stroke-width="1"/>
<text x="248.3" y="218.5" font-size="6.5" text-anchor="middle" font-weight="normal">12</text>
<text x="273.4" y="218.5" font-size="6.5" text-anchor="middle" font-weight="normal">15</text>
<text x="298.0" y="218.5" font-size="6.5" text-anchor="middle" font-weight="normal">21</text>
<path d="M242.7 146.8H255.3" stroke="#0c0c0c" stroke-width="1.2"/>
<text x="249.0" y="146.5" font-size="6.2" text-anchor="middle" font-weight="bold" class="st" letter-spacing="0.2">****</text>
<path d="M267.0 146.8H279.9" stroke="#0c0c0c" stroke-width="1.2"/>
<text x="273.45" y="146.5" font-size="6.2" text-anchor="middle" font-weight="bold" class="st" letter-spacing="0.2">**</text>
<path d="M291.5 146.8H304.0" stroke="#0c0c0c" stroke-width="1.2"/>
<text x="297.75" y="146.5" font-size="6.2" text-anchor="middle" font-weight="bold" class="st" letter-spacing="0.2">**</text>
<text x="219.4" y="170.6" font-size="7" text-anchor="middle" font-weight="normal" transform="rotate(-90 219.4 170.6)">CD4<tspan font-size="72%" dy="-2.1">+</tspan><tspan dy="2.1" dx="0.3">&#8203;</tspan> T cells (%)</text>
<path d="M236.6 223.0V296.9M235.4 296.9H309.5" stroke="#111" stroke-width="1.25" fill="none"/>
<path d="M234.29999999999998 224.1H236.6" stroke="#0c0c0c" stroke-width="1"/>
<text x="234.29999999999998" y="226.55" font-size="6.8" text-anchor="end" font-weight="normal">10</text>
<path d="M234.29999999999998 238.6H236.6" stroke="#0c0c0c" stroke-width="1"/>
<text x="234.29999999999998" y="241.05" font-size="6.8" text-anchor="end" font-weight="normal">8</text>
<path d="M234.29999999999998 253.2H236.6" stroke="#0c0c0c" stroke-width="1"/>
<text x="234.29999999999998" y="255.65" font-size="6.8" text-anchor="end" font-weight="normal">6</text>
<path d="M234.29999999999998 267.7H236.6" stroke="#0c0c0c" stroke-width="1"/>
<text x="234.29999999999998" y="270.15" font-size="6.8" text-anchor="end" font-weight="normal">4</text>
<path d="M234.29999999999998 282.3H236.6" stroke="#0c0c0c" stroke-width="1"/>
<text x="234.29999999999998" y="284.75" font-size="6.8" text-anchor="end" font-weight="normal">2</text>
<path d="M234.29999999999998 296.9H236.6" stroke="#0c0c0c" stroke-width="1"/>
<text x="234.29999999999998" y="299.35" font-size="6.8" text-anchor="end" font-weight="normal">0</text>
<path d="M242.55 258.30V283.20M242.55 289.20V296.20M239.94 258.30H245.16M239.94 296.20H245.16" stroke="#0c0c0c" stroke-width="1.1" fill="none"/>
<rect x="238.20" y="283.20" width="8.70" height="6.00" fill="#999999" stroke="#0c0c0c" stroke-width="1.1"/>
<path d="M238.20 286.20H246.90" stroke="#0c0c0c" stroke-width="1.1"/>
<path d="M242.55 296.9V299.29999999999995" stroke="#0c0c0c" stroke-width="1"/>
<path d="M254.65 288.20V289.00M254.65 292.40V296.60M252.04 288.20H257.26M252.04 296.60H257.26" stroke="#0c0c0c" stroke-width="1.1" fill="none"/>
<rect x="250.30" y="289.00" width="8.70" height="3.40" fill="#ffffff" stroke="#0c0c0c" stroke-width="1.1"/>
<path d="M254.65 296.9V299.29999999999995" stroke="#0c0c0c" stroke-width="1"/>
<path d="M267.00 262.20V279.50M267.00 289.20V294.20M264.48 262.20H269.52M264.48 294.20H269.52" stroke="#0c0c0c" stroke-width="1.1" fill="none"/>
<rect x="262.80" y="279.50" width="8.40" height="9.70" fill="#999999" stroke="#0c0c0c" stroke-width="1.1"/>
<path d="M262.80 284.20H271.20" stroke="#0c0c0c" stroke-width="1.1"/>
<path d="M267.00 296.9V299.29999999999995" stroke="#0c0c0c" stroke-width="1"/>
<path d="M278.90 294.20V294.80M278.90 296.20V296.60M276.32 294.20H281.48M276.32 296.60H281.48" stroke="#0c0c0c" stroke-width="1.1" fill="none"/>
<rect x="274.60" y="294.80" width="8.60" height="1.40" fill="#ffffff" stroke="#0c0c0c" stroke-width="1.1"/>
<path d="M274.60 295.50H283.20" stroke="#0c0c0c" stroke-width="1.1"/>
<path d="M278.90 296.9V299.29999999999995" stroke="#0c0c0c" stroke-width="1"/>
<path d="M291.15 242.20V272.20M291.15 287.60V296.20M288.60 242.20H293.70M288.60 296.20H293.70" stroke="#0c0c0c" stroke-width="1.1" fill="none"/>
<rect x="286.90" y="272.20" width="8.50" height="15.40" fill="#999999" stroke="#0c0c0c" stroke-width="1.1"/>
<path d="M286.90 278.70H295.40" stroke="#0c0c0c" stroke-width="1.1"/>
<path d="M291.15 296.9V299.29999999999995" stroke="#0c0c0c" stroke-width="1"/>
<path d="M303.30 293.20V294.00M303.30 296.40V296.80M300.72 293.20H305.88M300.72 296.80H305.88" stroke="#0c0c0c" stroke-width="1.1" fill="none"/>
<rect x="299.00" y="294.00" width="8.60" height="2.40" fill="#ffffff" stroke="#0c0c0c" stroke-width="1.1"/>
<path d="M303.30 296.9V299.29999999999995" stroke="#0c0c0c" stroke-width="1"/>
<text x="247.5" y="306.8" font-size="6.5" text-anchor="middle" font-weight="normal">12</text>
<text x="272.5" y="306.8" font-size="6.5" text-anchor="middle" font-weight="normal">15</text>
<text x="297.2" y="306.8" font-size="6.5" text-anchor="middle" font-weight="normal">21</text>
<path d="M242.3 253.6H254.9" stroke="#0c0c0c" stroke-width="1.2"/>
<text x="248.6" y="253.3" font-size="6.2" text-anchor="middle" font-weight="bold" class="st" letter-spacing="0.2">**</text>
<path d="M266.8 257.7H279.9" stroke="#0c0c0c" stroke-width="1.2"/>
<text x="273.35" y="257.4" font-size="6.2" text-anchor="middle" font-weight="bold" class="st" letter-spacing="0.2">****</text>
<path d="M291.1 237.1H304.0" stroke="#0c0c0c" stroke-width="1.2"/>
<text x="297.55" y="236.8" font-size="6.2" text-anchor="middle" font-weight="bold" class="st" letter-spacing="0.2">***</text>
<text x="218.5" y="259.5" font-size="7" text-anchor="middle" font-weight="normal" transform="rotate(-90 218.5 259.5)">CD3<tspan font-size="72%" dy="-2.1">-</tspan><tspan dy="2.1" dx="0.3">&#8203;</tspan>CD56<tspan font-size="72%" dy="-2.1">+</tspan><tspan dy="2.1" dx="0.3">&#8203;</tspan> NK cells (%)</text>
<path d="M340.4 136.1V209.8M339.2 209.8H413.5" stroke="#111" stroke-width="1.25" fill="none"/>
<path d="M338.09999999999997 142.6H340.4" stroke="#0c0c0c" stroke-width="1"/>
<text x="338.09999999999997" y="145.05" font-size="6.8" text-anchor="end" font-weight="normal">100</text>
<path d="M338.09999999999997 159.3H340.4" stroke="#0c0c0c" stroke-width="1"/>
<text x="338.09999999999997" y="161.75" font-size="6.8" text-anchor="end" font-weight="normal">75</text>
<path d="M338.09999999999997 176.0H340.4" stroke="#0c0c0c" stroke-width="1"/>
<text x="338.09999999999997" y="178.45" font-size="6.8" text-anchor="end" font-weight="normal">50</text>
<path d="M338.09999999999997 192.6H340.4" stroke="#0c0c0c" stroke-width="1"/>
<text x="338.09999999999997" y="195.05" font-size="6.8" text-anchor="end" font-weight="normal">25</text>
<path d="M338.09999999999997 209.8H340.4" stroke="#0c0c0c" stroke-width="1"/>
<text x="338.09999999999997" y="212.25" font-size="6.8" text-anchor="end" font-weight="normal">0</text>
<path d="M347.00 194.90V200.60M347.00 205.70V207.60M344.42 194.90H349.58M344.42 207.60H349.58" stroke="#0c0c0c" stroke-width="1.1" fill="none"/>
<rect x="342.70" y="200.60" width="8.60" height="5.10" fill="#999999" stroke="#0c0c0c" stroke-width="1.1"/>
<path d="M342.70 203.00H351.30" stroke="#0c0c0c" stroke-width="1.1"/>
<path d="M347.00 209.8V212.20000000000002" stroke="#0c0c0c" stroke-width="1"/>
<path d="M359.30 163.30V165.30M359.30 181.70V207.30M356.60 163.30H362.00M356.60 207.30H362.00" stroke="#0c0c0c" stroke-width="1.1" fill="none"/>
<rect x="354.80" y="165.30" width="9.00" height="16.40" fill="#ffffff" stroke="#0c0c0c" stroke-width="1.1"/>
<path d="M354.80 167.00H363.80" stroke="#0c0c0c" stroke-width="1.1"/>
<path d="M359.30 209.8V212.20000000000002" stroke="#0c0c0c" stroke-width="1"/>
<path d="M371.25 169.20V187.10M371.25 199.80V206.20M368.70 169.20H373.80M368.70 206.20H373.80" stroke="#0c0c0c" stroke-width="1.1" fill="none"/>
<rect x="367.00" y="187.10" width="8.50" height="12.70" fill="#999999" stroke="#0c0c0c" stroke-width="1.1"/>
<path d="M367.00 194.20H375.50" stroke="#0c0c0c" stroke-width="1.1"/>
<path d="M371.25 209.8V212.20000000000002" stroke="#0c0c0c" stroke-width="1"/>
<path d="M383.70 160.30V163.90M383.70 186.10V202.20M381.06 160.30H386.34M381.06 202.20H386.34" stroke="#0c0c0c" stroke-width="1.1" fill="none"/>
<rect x="379.30" y="163.90" width="8.80" height="22.20" fill="#ffffff" stroke="#0c0c0c" stroke-width="1.1"/>
<path d="M379.30 170.00H388.10" stroke="#0c0c0c" stroke-width="1.1"/>
<path d="M383.70 209.8V212.20000000000002" stroke="#0c0c0c" stroke-width="1"/>
<path d="M395.85 177.50V185.10M395.85 205.80V207.90M393.24 177.50H398.46M393.24 207.90H398.46" stroke="#0c0c0c" stroke-width="1.1" fill="none"/>
<rect x="391.50" y="185.10" width="8.70" height="20.70" fill="#999999" stroke="#0c0c0c" stroke-width="1.1"/>
<path d="M391.50 200.80H400.20" stroke="#0c0c0c" stroke-width="1.1"/>
<path d="M395.85 209.8V212.20000000000002" stroke="#0c0c0c" stroke-width="1"/>
<path d="M408.15 174.20V188.70M408.15 205.80V207.90M405.48 174.20H410.82M405.48 207.90H410.82" stroke="#0c0c0c" stroke-width="1.1" fill="none"/>
<rect x="403.70" y="188.70" width="8.90" height="17.10" fill="#ffffff" stroke="#0c0c0c" stroke-width="1.1"/>
<path d="M403.70 201.20H412.60" stroke="#0c0c0c" stroke-width="1.1"/>
<path d="M408.15 209.8V212.20000000000002" stroke="#0c0c0c" stroke-width="1"/>
<text x="352.7" y="218.6" font-size="6.5" text-anchor="middle" font-weight="normal">12</text>
<text x="377.5" y="218.6" font-size="6.5" text-anchor="middle" font-weight="normal">15</text>
<text x="402.2" y="218.6" font-size="6.5" text-anchor="middle" font-weight="normal">21</text>
<path d="M346.7 158.3H359.8" stroke="#0c0c0c" stroke-width="1.2"/>
<text x="353.25" y="158.0" font-size="6.2" text-anchor="middle" font-weight="bold" class="st" letter-spacing="0.2">****</text>
<path d="M371.0 154.8H383.9" stroke="#0c0c0c" stroke-width="1.2"/>
<text x="377.45" y="154.5" font-size="6.2" text-anchor="middle" font-weight="bold" class="st" letter-spacing="0.2">****</text>
<text x="322.8" y="167.8" font-size="7" text-anchor="middle" font-weight="normal" transform="rotate(-90 322.8 167.8)">CD19<tspan font-size="72%" dy="-2.1">+</tspan><tspan dy="2.1" dx="0.3">&#8203;</tspan> B cells (%)</text>
<path d="M340.4 223.0V296.6M339.2 296.6H413.0" stroke="#111" stroke-width="1.25" fill="none"/>
<path d="M338.09999999999997 224.4H340.4" stroke="#0c0c0c" stroke-width="1"/>
<text x="338.09999999999997" y="226.85" font-size="6.8" text-anchor="end" font-weight="normal">6</text>
<path d="M338.09999999999997 248.4H340.4" stroke="#0c0c0c" stroke-width="1"/>
<text x="338.09999999999997" y="250.85" font-size="6.8" text-anchor="end" font-weight="normal">4</text>
<path d="M338.09999999999997 272.5H340.4" stroke="#0c0c0c" stroke-width="1"/>
<text x="338.09999999999997" y="274.95" font-size="6.8" text-anchor="end" font-weight="normal">2</text>
<path d="M338.09999999999997 296.6H340.4" stroke="#0c0c0c" stroke-width="1"/>
<text x="338.09999999999997" y="299.05" font-size="6.8" text-anchor="end" font-weight="normal">0</text>
<path d="M346.80 270.00V290.20M346.80 293.80V296.20M344.34 270.00H349.26M344.34 296.20H349.26" stroke="#0c0c0c" stroke-width="1.1" fill="none"/>
<rect x="342.70" y="290.20" width="8.20" height="3.60" fill="#999999" stroke="#0c0c0c" stroke-width="1.1"/>
<path d="M342.70 292.00H350.90" stroke="#0c0c0c" stroke-width="1.1"/>
<path d="M346.80 296.6V299.0" stroke="#0c0c0c" stroke-width="1"/>
<path d="M358.65 281.70V283.60M358.65 293.60V296.20M356.04 281.70H361.26M356.04 296.20H361.26" stroke="#0c0c0c" stroke-width="1.1" fill="none"/>
<rect x="354.30" y="283.60" width="8.70" height="10.00" fill="#ffffff" stroke="#0c0c0c" stroke-width="1.1"/>
<path d="M354.30 290.20H363.00" stroke="#0c0c0c" stroke-width="1.1"/>
<path d="M358.65 296.6V299.0" stroke="#0c0c0c" stroke-width="1"/>
<path d="M370.95 286.20V292.20M370.95 294.20V296.20M368.46 286.20H373.44M368.46 296.20H373.44" stroke="#0c0c0c" stroke-width="1.1" fill="none"/>
<rect x="366.80" y="292.20" width="8.30" height="2.00" fill="#999999" stroke="#0c0c0c" stroke-width="1.1"/>
<path d="M366.80 293.20H375.10" stroke="#0c0c0c" stroke-width="1.1"/>
<path d="M370.95 296.6V299.0" stroke="#0c0c0c" stroke-width="1"/>
<path d="M382.80 291.60V292.20M382.80 295.20V296.40M380.22 291.60H385.38M380.22 296.40H385.38" stroke="#0c0c0c" stroke-width="1.1" fill="none"/>
<rect x="378.50" y="292.20" width="8.60" height="3.00" fill="#ffffff" stroke="#0c0c0c" stroke-width="1.1"/>
<path d="M378.50 293.80H387.10" stroke="#0c0c0c" stroke-width="1.1"/>
<path d="M382.80 296.6V299.0" stroke="#0c0c0c" stroke-width="1"/>
<path d="M395.30 233.70V273.70M395.30 292.20V295.60M392.72 233.70H397.88M392.72 295.60H397.88" stroke="#0c0c0c" stroke-width="1.1" fill="none"/>
<rect x="391.00" y="273.70" width="8.60" height="18.50" fill="#999999" stroke="#0c0c0c" stroke-width="1.1"/>
<path d="M391.00 283.60H399.60" stroke="#0c0c0c" stroke-width="1.1"/>
<path d="M395.30 296.6V299.0" stroke="#0c0c0c" stroke-width="1"/>
<path d="M406.65 282.10V289.20M406.65 295.60V296.40M403.92 282.10H409.38M403.92 296.40H409.38" stroke="#0c0c0c" stroke-width="1.1" fill="none"/>
<rect x="402.10" y="289.20" width="9.10" height="6.40" fill="#ffffff" stroke="#0c0c0c" stroke-width="1.1"/>
<path d="M402.10 293.20H411.20" stroke="#0c0c0c" stroke-width="1.1"/>
<path d="M406.65 296.6V299.0" stroke="#0c0c0c" stroke-width="1"/>
<text x="352.0" y="306.7" font-size="6.5" text-anchor="middle" font-weight="normal">12</text>
<text x="376.8" y="306.7" font-size="6.5" text-anchor="middle" font-weight="normal">15</text>
<text x="401.8" y="306.7" font-size="6.5" text-anchor="middle" font-weight="normal">21</text>
<path d="M395.2 229.2H407.6" stroke="#0c0c0c" stroke-width="1.2"/>
<text x="401.4" y="228.9" font-size="6.2" text-anchor="middle" font-weight="bold" class="st" letter-spacing="0.2">*</text>
<text x="321.9" y="258.8" font-size="7" text-anchor="middle" font-weight="normal" transform="rotate(-90 321.9 258.8)">DR<tspan font-size="72%" dy="-2.1">+</tspan><tspan dy="2.1" dx="0.3">&#8203;</tspan>lin<tspan font-size="72%" dy="-2.1">-</tspan><tspan dy="2.1" dx="0.3">&#8203;</tspan>CD11c<tspan font-size="72%" dy="-2.1">+</tspan><tspan dy="2.1" dx="0.3">&#8203;</tspan> mDC (%)</text>
<path d="M440.6 136.0V209.6M439.40000000000003 209.6H514.6" stroke="#111" stroke-width="1.25" fill="none"/>
<path d="M438.3 146.3H440.6" stroke="#0c0c0c" stroke-width="1"/>
<text x="438.3" y="148.75" font-size="6.8" text-anchor="end" font-weight="normal">3</text>
<path d="M438.3 167.2H440.6" stroke="#0c0c0c" stroke-width="1"/>
<text x="438.3" y="169.65" font-size="6.8" text-anchor="end" font-weight="normal">2</text>
<path d="M438.3 188.3H440.6" stroke="#0c0c0c" stroke-width="1"/>
<text x="438.3" y="190.75" font-size="6.8" text-anchor="end" font-weight="normal">1</text>
<path d="M438.3 209.6H440.6" stroke="#0c0c0c" stroke-width="1"/>
<text x="438.3" y="212.05" font-size="6.8" text-anchor="end" font-weight="normal">0</text>
<path d="M449.95 152.80V174.30M449.95 195.30V207.50M446.65 152.80H453.25M446.65 207.50H453.25" stroke="#0c0c0c" stroke-width="1.1" fill="none"/>
<rect x="443.80" y="174.30" width="12.30" height="21.00" fill="#999999" stroke="#0c0c0c" stroke-width="1.1"/>
<path d="M443.80 188.10H456.10" stroke="#0c0c0c" stroke-width="1.1"/>
<path d="M449.95 209.6V212.0" stroke="#0c0c0c" stroke-width="1"/>
<path d="M468.65 193.40V201.60M468.65 208.40V209.40M465.35 193.40H471.95M465.35 209.40H471.95" stroke="#0c0c0c" stroke-width="1.1" fill="none"/>
<rect x="462.50" y="201.60" width="12.30" height="6.80" fill="#ffffff" stroke="#0c0c0c" stroke-width="1.1"/>
<path d="M462.50 205.60H474.80" stroke="#0c0c0c" stroke-width="1.1"/>
<path d="M468.65 209.6V212.0" stroke="#0c0c0c" stroke-width="1"/>
<path d="M486.75 157.40V171.10M486.75 186.90V196.10M483.45 157.40H490.05M483.45 196.10H490.05" stroke="#0c0c0c" stroke-width="1.1" fill="none"/>
<rect x="480.40" y="171.10" width="12.70" height="15.80" fill="#999999" stroke="#0c0c0c" stroke-width="1.1"/>
<path d="M480.40 180.20H493.10" stroke="#0c0c0c" stroke-width="1.1"/>
<path d="M486.75 209.6V212.0" stroke="#0c0c0c" stroke-width="1"/>
<path d="M505.15 199.30V203.60M505.15 208.60V209.40M501.85 199.30H508.45M501.85 209.40H508.45" stroke="#0c0c0c" stroke-width="1.1" fill="none"/>
<rect x="499.10" y="203.60" width="12.10" height="5.00" fill="#ffffff" stroke="#0c0c0c" stroke-width="1.1"/>
<path d="M499.10 207.00H511.20" stroke="#0c0c0c" stroke-width="1.1"/>
<path d="M505.15 209.6V212.0" stroke="#0c0c0c" stroke-width="1"/>
<text x="459.2" y="218.8" font-size="6.5" text-anchor="middle" font-weight="normal">17</text>
<text x="495.8" y="218.8" font-size="6.5" text-anchor="middle" font-weight="normal">22</text>
<path d="M449.4 147.8H462.4" stroke="#0c0c0c" stroke-width="1.2"/>
<text x="455.9" y="147.5" font-size="6.2" text-anchor="middle" font-weight="bold" class="st" letter-spacing="0.2">***</text>
<path d="M486.4 153.0H499.1" stroke="#0c0c0c" stroke-width="1.2"/>
<text x="492.75" y="152.7" font-size="6.2" text-anchor="middle" font-weight="bold" class="st" letter-spacing="0.2">****</text>
<text x="428.2" y="150.3" font-size="7.2" text-anchor="middle" font-weight="normal" transform="rotate(-90 428.2 150.3)">CD4<tspan font-size="72%" dy="-2.1">+</tspan><tspan dy="2.1" dx="0.3">&#8203;</tspan>CD127<tspan font-size="72%" dy="-2.1">lo</tspan><tspan dy="2.1" dx="0.3">&#8203;</tspan>Foxp3<tspan font-size="72%" dy="-2.1">+</tspan><tspan dy="2.1" dx="0.3">&#8203;</tspan>CD25<tspan font-size="72%" dy="-2.1">+</tspan><tspan dy="2.1" dx="0.3">&#8203;</tspan>Treg (%)</text>
<path d="M440.4 223.0V296.4M439.2 296.4H513.0" stroke="#111" stroke-width="1.25" fill="none"/>
<path d="M438.09999999999997 224.1H440.4" stroke="#0c0c0c" stroke-width="1"/>
<text x="438.09999999999997" y="226.55" font-size="6.8" text-anchor="end" font-weight="normal">1.0</text>
<path d="M438.09999999999997 242.2H440.4" stroke="#0c0c0c" stroke-width="1"/>
<text x="438.09999999999997" y="244.65" font-size="6.8" text-anchor="end" font-weight="normal">.75</text>
<path d="M438.09999999999997 260.3H440.4" stroke="#0c0c0c" stroke-width="1"/>
<text x="438.09999999999997" y="262.75" font-size="6.8" text-anchor="end" font-weight="normal">.50</text>
<path d="M438.09999999999997 278.3H440.4" stroke="#0c0c0c" stroke-width="1"/>
<text x="438.09999999999997" y="280.75" font-size="6.8" text-anchor="end" font-weight="normal">.25</text>
<path d="M438.09999999999997 296.4H440.4" stroke="#0c0c0c" stroke-width="1"/>
<text x="438.09999999999997" y="298.85" font-size="6.8" text-anchor="end" font-weight="normal">0</text>
<path d="M446.70 256.20V277.50M446.70 289.20V294.20M444.18 256.20H449.22M444.18 294.20H449.22" stroke="#0c0c0c" stroke-width="1.1" fill="none"/>
<rect x="442.50" y="277.50" width="8.40" height="11.70" fill="#999999" stroke="#0c0c0c" stroke-width="1.1"/>
<path d="M442.50 284.80H450.90" stroke="#0c0c0c" stroke-width="1.1"/>
<path d="M446.70 296.4V298.79999999999995" stroke="#0c0c0c" stroke-width="1"/>
<path d="M458.75 241.80V265.50M458.75 288.80V296.20M456.14 241.80H461.36M456.14 296.20H461.36" stroke="#0c0c0c" stroke-width="1.1" fill="none"/>
<rect x="454.40" y="265.50" width="8.70" height="23.30" fill="#ffffff" stroke="#0c0c0c" stroke-width="1.1"/>
<path d="M454.40 280.50H463.10" stroke="#0c0c0c" stroke-width="1.1"/>
<path d="M458.75 296.4V298.79999999999995" stroke="#0c0c0c" stroke-width="1"/>
<path d="M470.95 279.20V290.20M470.95 294.40V296.00M468.34 279.20H473.56M468.34 296.00H473.56" stroke="#0c0c0c" stroke-width="1.1" fill="none"/>
<rect x="466.60" y="290.20" width="8.70" height="4.20" fill="#999999" stroke="#0c0c0c" stroke-width="1.1"/>
<path d="M466.60 292.40H475.30" stroke="#0c0c0c" stroke-width="1.1"/>
<path d="M470.95 296.4V298.79999999999995" stroke="#0c0c0c" stroke-width="1"/>
<path d="M483.10 263.30V267.60M483.10 295.60V296.20M480.40 263.30H485.80M480.40 296.20H485.80" stroke="#0c0c0c" stroke-width="1.1" fill="none"/>
<rect x="478.60" y="267.60" width="9.00" height="28.00" fill="#ffffff" stroke="#0c0c0c" stroke-width="1.1"/>
<path d="M478.60 278.60H487.60" stroke="#0c0c0c" stroke-width="1.1"/>
<path d="M483.10 296.4V298.79999999999995" stroke="#0c0c0c" stroke-width="1"/>
<path d="M495.40 264.40V279.50M495.40 295.20V296.20M492.94 264.40H497.86M492.94 296.20H497.86" stroke="#0c0c0c" stroke-width="1.1" fill="none"/>
<rect x="491.30" y="279.50" width="8.20" height="15.70" fill="#999999" stroke="#0c0c0c" stroke-width="1.1"/>
<path d="M491.30 288.20H499.50" stroke="#0c0c0c" stroke-width="1.1"/>
<path d="M495.40 296.4V298.79999999999995" stroke="#0c0c0c" stroke-width="1"/>
<path d="M507.55 259.60V276.10M507.55 296.00V296.30M504.88 259.60H510.22M504.88 296.30H510.22" stroke="#0c0c0c" stroke-width="1.1" fill="none"/>
<rect x="503.10" y="276.10" width="8.90" height="19.90" fill="#ffffff" stroke="#0c0c0c" stroke-width="1.1"/>
<path d="M503.10 292.20H512.00" stroke="#0c0c0c" stroke-width="1.1"/>
<path d="M507.55 296.4V298.79999999999995" stroke="#0c0c0c" stroke-width="1"/>
<text x="451.2" y="306.6" font-size="6.5" text-anchor="middle" font-weight="normal">12</text>
<text x="475.9" y="306.6" font-size="6.5" text-anchor="middle" font-weight="normal">15</text>
<text x="500.5" y="306.6" font-size="6.5" text-anchor="middle" font-weight="normal">21</text>
<path d="M470.7 258.7H483.0" stroke="#0c0c0c" stroke-width="1.2"/>
<text x="476.85" y="258.4" font-size="6.2" text-anchor="middle" font-weight="bold" class="st" letter-spacing="0.2">****</text>
<text x="426.9" y="260.3" font-size="7" text-anchor="middle" font-weight="normal" transform="rotate(-90 426.9 260.3)">DR<tspan font-size="72%" dy="-2.1">+</tspan><tspan dy="2.1" dx="0.3">&#8203;</tspan>lin<tspan font-size="72%" dy="-2.1">-</tspan><tspan dy="2.1" dx="0.3">&#8203;</tspan>CD123<tspan font-size="72%" dy="-2.1">+</tspan><tspan dy="2.1" dx="0.3">&#8203;</tspan> pDC (%)</text>
<text x="0.7" y="8.8" font-size="10.7" text-anchor="start" font-weight="bold">A</text>
<text x="0.5" y="131.7" font-size="10.8" text-anchor="start" font-weight="bold">B</text>
<path d="M22.5 114.1H209.5" stroke="#111" stroke-width="1.6"/>
<path d="M215.5 114.1L204.7 110.5L207.2 114.1L204.7 117.69999999999999Z" fill="#111"/>
<path d="M21.4 313.3H513.2" stroke="#111" stroke-width="1.6"/>
<path d="M519.2 313.3L508.40000000000003 309.7L510.90000000000003 313.3L508.40000000000003 316.90000000000003Z" fill="#111"/>
<text x="114.3" y="122.2" font-size="7" text-anchor="middle" font-weight="normal">weeks post transplant</text>
<text x="254.0" y="320.7" font-size="7" text-anchor="middle" font-weight="normal">weeks post transplant</text>
<rect x="266.4" y="50.8" width="4.3" height="4.3" fill="#999999" stroke="#0c0c0c" stroke-width="0.8"/>
<rect x="266.4" y="63.8" width="4.3" height="4.3" fill="#ffffff" stroke="#0c0c0c" stroke-width="0.8"/>
<text x="274.7" y="56.1" font-size="9.15" text-anchor="start" font-weight="normal">TKO-BLT</text>
<text x="274.7" y="69.1" font-size="9.15" text-anchor="start" font-weight="normal">DKO-BLT</text>
</svg>
</body></html>
